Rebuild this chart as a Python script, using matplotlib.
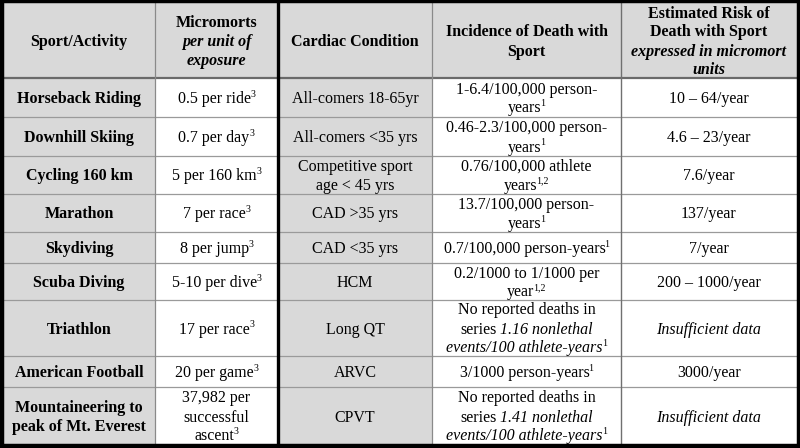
import matplotlib
matplotlib.use("Agg")
import matplotlib.pyplot as plt
from matplotlib.patches import Rectangle

# ---------------- data ----------------
headers = [
    "Sport/Activity",
    "Micromorts\n~per unit of~\n~exposure~",
    "Cardiac Condition",
    "Incidence of Death with\nSport",
    "Estimated Risk of\nDeath with Sport\n~expressed in micromort~\n~units~",
]
sports = [
    "Horseback Riding", "Downhill Skiing", "Cycling 160 km", "Marathon",
    "Skydiving", "Scuba Diving", "Triathlon", "American Football",
    "Mountaineering to\npeak of Mt. Everest",
]
micromorts = [
    "0.5 per ride^3", "0.7 per day^3", "5 per 160 km^3", "7 per race^3",
    "8 per jump^3", "5-10 per dive^3", "17 per race^3", "20 per game^3",
    "37,982 per\nsuccessful\nascent^3",
]
cardiac = [
    "All-comers 18-65yr", "All-comers <35 yrs", "Competitive sport\nage < 45 yrs",
    "CAD >35 yrs", "CAD <35 yrs", "HCM", "Long QT", "ARVC", "CPVT",
]
incidence = [
    "1-6.4/100,000 person-\nyears^1",
    "0.46-2.3/100,000 person-\nyears^1",
    "0.76/100,000 athlete\nyears^1,2",
    "13.7/100,000 person-\nyears^1",
    "0.7/100,000 person-years^1",
    "0.2/1000 to 1/1000 per\nyear^1,2",
    "No reported deaths in\nseries ~1.16 nonlethal~\n~events/100 athlete-years~^1",
    "3/1000 person-years^1",
    "No reported deaths in\nseries ~1.41 nonlethal~\n~events/100 athlete-years~^1",
]
risk = [
    "10 \u2013 64/year", "4.6 \u2013 23/year", "7.6/year", "137/year", "7/year",
    "200 \u2013 1000/year", "~Insufficient data~", "3000/year", "~Insufficient data~",
]

# ---------------- layout ----------------
W, H = 800, 448
col_edges = [3, 155, 278, 432, 621, 797]
row_edges = [3, 78, 117, 156, 194, 232, 263, 300, 356, 387, 445]
gray_cols = [0, 2]
GRAY = "#d9d9d9"
FONT = "Liberation Serif"
FS = 11.5
LINE = 19.0
OFF = 5.5

fig = plt.figure(figsize=(W / 100, H / 100), dpi=100)
ax = fig.add_axes([0, 0, 1, 1])
ax.set_xlim(0, W)
ax.set_ylim(H, 0)
ax.axis("off")
renderer = fig.canvas.get_renderer()

# backgrounds
ncols = len(col_edges) - 1
nrows = len(row_edges) - 1
for r in range(nrows):
    for c in range(ncols):
        fc = GRAY if (r == 0 or c in gray_cols) else "white"
        ax.add_patch(Rectangle((col_edges[c], row_edges[r]),
                               col_edges[c + 1] - col_edges[c],
                               row_edges[r + 1] - row_edges[r],
                               facecolor=fc, edgecolor="none", zorder=0))

# grid lines
for y in row_edges[2:-1]:
    ax.plot([col_edges[0], col_edges[-1]], [y, y], color="#9a9a9a", lw=0.9, zorder=1)
ax.plot([col_edges[0], col_edges[-1]], [row_edges[1]] * 2, color="#6a6a6a", lw=1.6, zorder=1)
for i, x in enumerate(col_edges[1:-1], start=1):
    if i == 2:
        ax.plot([x, x], [0, H], color="black", lw=2.4, zorder=2)
    elif i == 4:
        ax.plot([x, x], [0, H], color="#707070", lw=1.0, zorder=1)
    else:
        ax.plot([x, x], [0, H], color="#8a8a8a", lw=0.9, zorder=1)
# outer border
ax.add_patch(Rectangle((1.5, 1.5), W - 3, H - 3.5, facecolor="none",
                       edgecolor="black", lw=3.2, zorder=3))

_space_cache = {}


def text_width(s, **kw):
    t = ax.text(0, 0, s, fontfamily=FONT, **kw)
    w = t.get_window_extent(renderer).width
    t.remove()
    return w


def space_width(**kw):
    key = tuple(sorted(kw.items()))
    if key not in _space_cache:
        _space_cache[key] = text_width("a a", **kw) - text_width("aa", **kw)
    return _space_cache[key]


def parse(line):
    segs = []
    sup = None
    if "^" in line:
        line, sup = line.split("^", 1)
    parts = line.split("~")
    for i, p in enumerate(parts):
        if p:
            segs.append((p, i % 2 == 1, False))
    if sup:
        segs.append((sup, False, True))
    return segs


def draw_line(xc, yb, line, bold):
    weight = "bold" if bold else "normal"
    items = []
    total = 0.0
    for s, ital, sup in parse(line):
        kw = dict(fontsize=FS * (0.62 if sup else 1.0), fontweight=weight,
                  fontstyle="italic" if ital else "normal")
        lead = len(s) - len(s.lstrip(" "))
        trail = len(s) - len(s.rstrip(" "))
        core = s.strip(" ")
        sw = space_width(**kw)
        w = text_width(core, **kw) if core else 0.0
        shift = -1.2 if (sup and core.startswith("1")) else 0.0
        items.append((core, kw, total + lead * sw + shift, sup))
        total += lead * sw + w + trail * sw + shift
    x0 = xc - total / 2
    for core, kw, dx, sup in items:
        if not core:
            continue
        y = yb - (FS * 100 / 72 * 0.40 if sup else 0)
        ax.text(x0 + dx, y, core, fontfamily=FONT, ha="left", va="baseline",
                color="black", zorder=5, **kw)


def draw_cell(r, c, content, bold):
    xc = (col_edges[c] + col_edges[c + 1]) / 2
    yc = (row_edges[r] + row_edges[r + 1]) / 2
    lines = content.split("\n")
    n = len(lines)
    for i, ln in enumerate(lines):
        yb = yc + OFF + (i - (n - 1) / 2) * LINE
        draw_line(xc, yb, ln, bold)


for c, h in enumerate(headers):
    draw_cell(0, c, h, True)

columns = [sports, micromorts, cardiac, incidence, risk]
for c, col in enumerate(columns):
    for r, val in enumerate(col):
        draw_cell(r + 1, c, val, c == 0)

fig.savefig("out.png", dpi=100)
